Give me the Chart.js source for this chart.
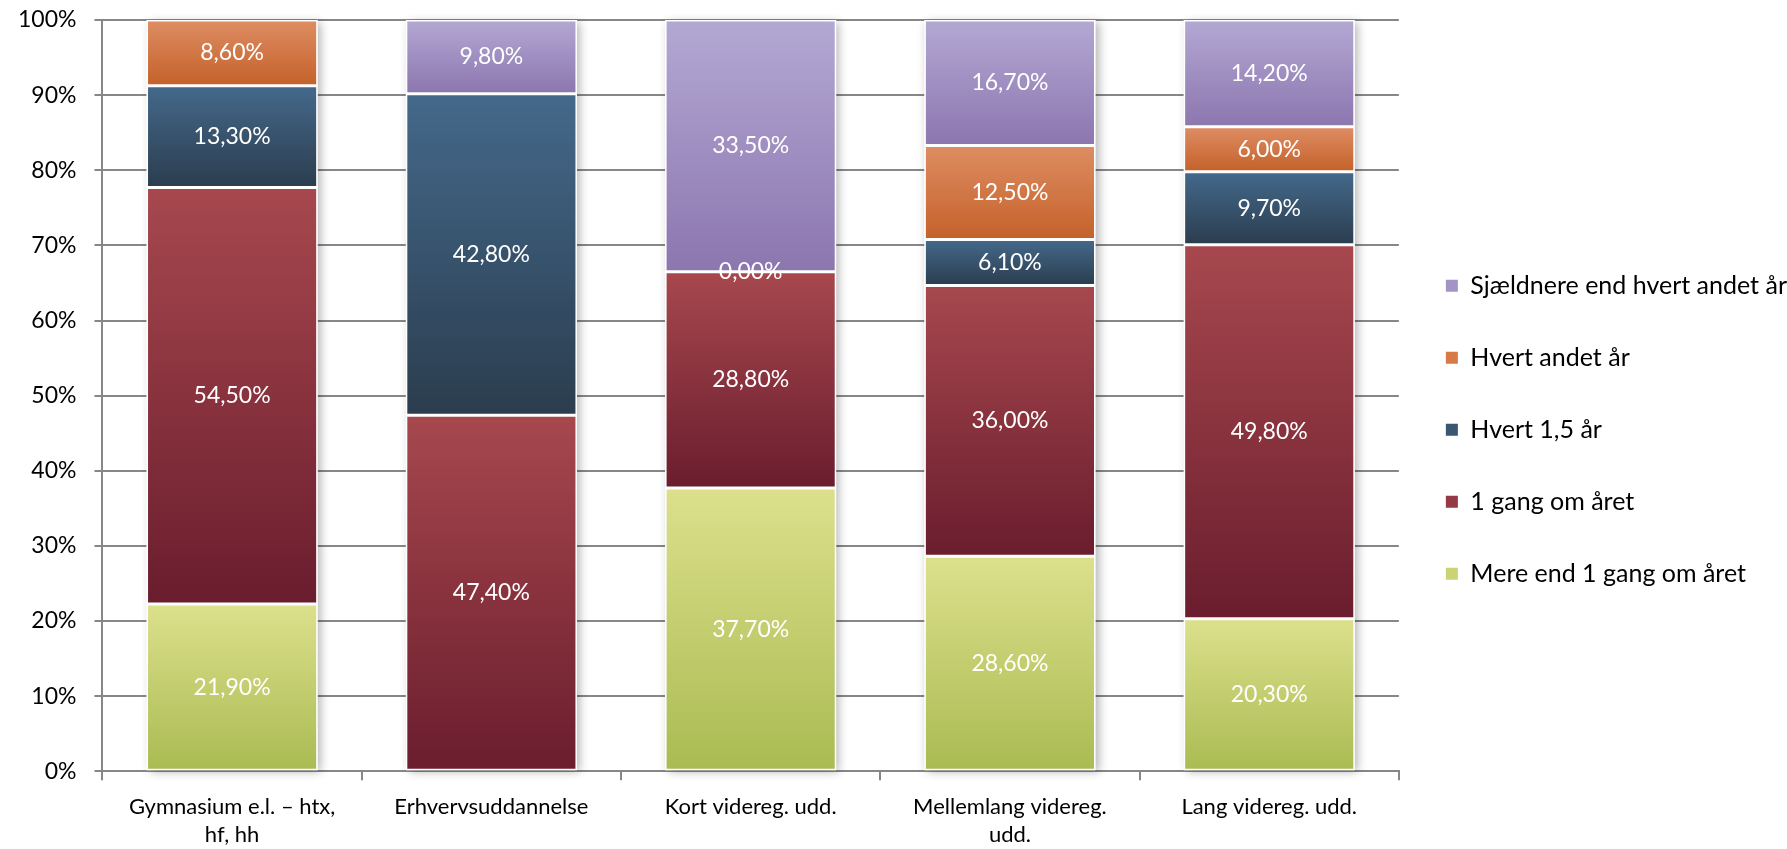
<!DOCTYPE html>
<html>
<head>
<meta charset="utf-8">
<script src="https://cdn.jsdelivr.net/npm/chart.js@4.4.0/dist/chart.umd.min.js"></script>
<style>
  html, body { margin: 0; padding: 0; background: #fff; }
  #wrap { width: 1787px; height: 849px; position: relative; }
</style>
</head>
<body>
<div id="wrap"><canvas id="chart"></canvas></div>
<script>
// categories and series (raw values as printed in the bars)
const categories = [['Gymnasium e.l. – htx,', 'hf, hh'], 'Erhvervsuddannelse', 'Kort videreg. udd.', ['Mellemlang videreg.', 'udd.'], 'Lang videreg. udd.']

const mereEnd1Gang = [21.9, null, 37.7, 28.6, 20.3]
const enGangOmAaret = [54.5, 47.4, 28.8, 36.0, 49.8]
const hvert15Aar = [13.3, 42.8, 0.0, 6.1, 9.7]
const hvertAndetAar = [8.6, null, null, 12.5, 6.0]
const sjaeldnere = [null, 9.8, 33.5, 16.7, 14.2]

const seriesNames = ['Mere end 1 gang om året', '1 gang om året', 'Hvert 1,5 år', 'Hvert andet år', 'Sjældnere end hvert andet år']
const seriesValues = [mereEnd1Gang, enGangOmAaret, hvert15Aar, hvertAndetAar, sjaeldnere]

// top / bottom colours of each segment's gradient, and legend swatch
const gradTop = ['#dce08c', '#a7484e', '#44698b', '#de8d63', '#b3a8d4']
const gradBottom = ['#aabb52', '#6a1d2e', '#2b3d4e', '#c4612a', '#8c76ae']
const swatch = ['#ccd375', '#933a45', '#3a5670', '#d77a48', '#a394c6']

const FONT = 'Lato'
const GRID = '#878787'

// 100% stacked: normalise each column like Excel does
const totals = categories.map((_, i) => seriesValues.reduce((s, arr) => s + (arr[i] || 0), 0))
const shares = seriesValues.map(arr => arr.map((v, i) => (v == null ? null : (v / totals[i]) * 100)))

function fmt(v) {
  return v.toFixed(2).replace('.', ',') + '%'
}

function segmentFill(ctx) {
  const s = ctx.datasetIndex
  const chart = ctx.chart
  if (ctx.type !== 'data' || !chart.chartArea) return swatch[s]
  const i = ctx.dataIndex
  const y = chart.scales.y
  let start = 0
  for (let k = 0; k < s; k++) start += shares[k][i] || 0
  const end = start + (shares[s][i] || 0)
  const top = y.getPixelForValue(end)
  const bottom = y.getPixelForValue(start)
  if (bottom - top < 1) return gradBottom[s]
  const g = chart.ctx.createLinearGradient(0, top, 0, bottom)
  g.addColorStop(0, gradTop[s])
  g.addColorStop(1, gradBottom[s])
  return g
}

// soft shadow behind every stacked column
const stackShadow = {
  id: 'stackShadow',
  beforeDatasetsDraw(chart) {
    const c = chart.ctx
    const metas = chart.getSortedVisibleDatasetMetas()
    c.save()
    c.shadowColor = 'rgba(0,0,0,0.30)'
    c.shadowBlur = 9
    c.shadowOffsetX = 3
    c.shadowOffsetY = 2
    c.fillStyle = '#fff'
    categories.forEach((_, i) => {
      let left = null, width = 0, top = Infinity, bottom = -Infinity
      for (const m of metas) {
        const el = m.data[i]
        if (!el || isNaN(el.y) || seriesValues[m.index][i] == null) continue
        left = el.x - el.width / 2
        width = el.width
        top = Math.min(top, el.y, el.base)
        bottom = Math.max(bottom, el.y, el.base)
      }
      if (left != null) c.fillRect(left, top, width, bottom - top)
    })
    c.restore()
  },
}

// white value labels in the middle of each segment
const segmentLabels = {
  id: 'segmentLabels',
  afterDatasetsDraw(chart) {
    const c = chart.ctx
    c.save()
    c.font = `23px ${FONT}`
    c.fillStyle = '#ffffff'
    c.textAlign = 'center'
    c.textBaseline = 'middle'
    for (const m of chart.getSortedVisibleDatasetMetas()) {
      const raw = seriesValues[m.index]
      m.data.forEach((el, i) => {
        if (raw[i] == null) return
        c.fillText(fmt(raw[i]), el.x, (el.y + el.base) / 2)
      })
    }
    c.restore()
  },
}

// nudge the legend block up a little, as in the original
const legendNudge = {
  id: 'legendNudge',
  afterLayout(chart) {
    chart.legend.top -= 11
    chart.legend.bottom -= 11
  },
}

const datasets = seriesNames.map((name, s) => ({
  label: name,
  data: shares[s],
  backgroundColor: segmentFill,
  borderColor: '#ffffff',
  borderWidth: 1.5,
  borderSkipped: false,
  barPercentage: 1,
  categoryPercentage: 0.66,
}))

new Chart(document.getElementById('chart'), {
  type: 'bar',
  data: { labels: categories, datasets },
  plugins: [stackShadow, segmentLabels, legendNudge],
  options: {
    responsive: true,
    maintainAspectRatio: false,
    animation: false,
    layout: { padding: { left: 0, top: 20, right: -10, bottom: -12.5 } },
    plugins: {
      tooltip: { enabled: false },
      legend: {
        position: 'right',
        labels: {
          boxWidth: 12,
          boxHeight: 12,
          padding: 47,
          color: '#000',
          font: { family: FONT, size: 25 },
          generateLabels: () =>
            seriesNames
              .map((name, s) => ({ text: name, fillStyle: swatch[s], strokeStyle: swatch[s], lineWidth: 0, datasetIndex: s }))
              .reverse(),
        },
      },
    },
    scales: {
      x: {
        stacked: true,
        offset: true,
        grid: { offset: true, drawOnChartArea: false, drawTicks: true, tickLength: 9, color: GRID, lineWidth: 2 },
        border: { color: GRID, width: 2 },
        ticks: { color: '#000', font: { family: FONT, size: 22, lineHeight: 1.3 }, padding: 12, maxRotation: 0, autoSkip: false },
      },
      y: {
        stacked: true,
        min: 0,
        max: 100,
        grid: { color: GRID, lineWidth: 2, tickLength: 8 },
        border: { color: GRID, width: 2 },
        ticks: {
          stepSize: 10,
          padding: 18,
          color: '#000',
          font: { family: FONT, size: 23 },
          callback: v => v + '%',
        },
        afterFit(scale) {
          // keep the horizontal label gap without pushing the plot top down
          scale.paddingTop = 14
        },
      },
    },
  },
})
</script>
</body>
</html>
